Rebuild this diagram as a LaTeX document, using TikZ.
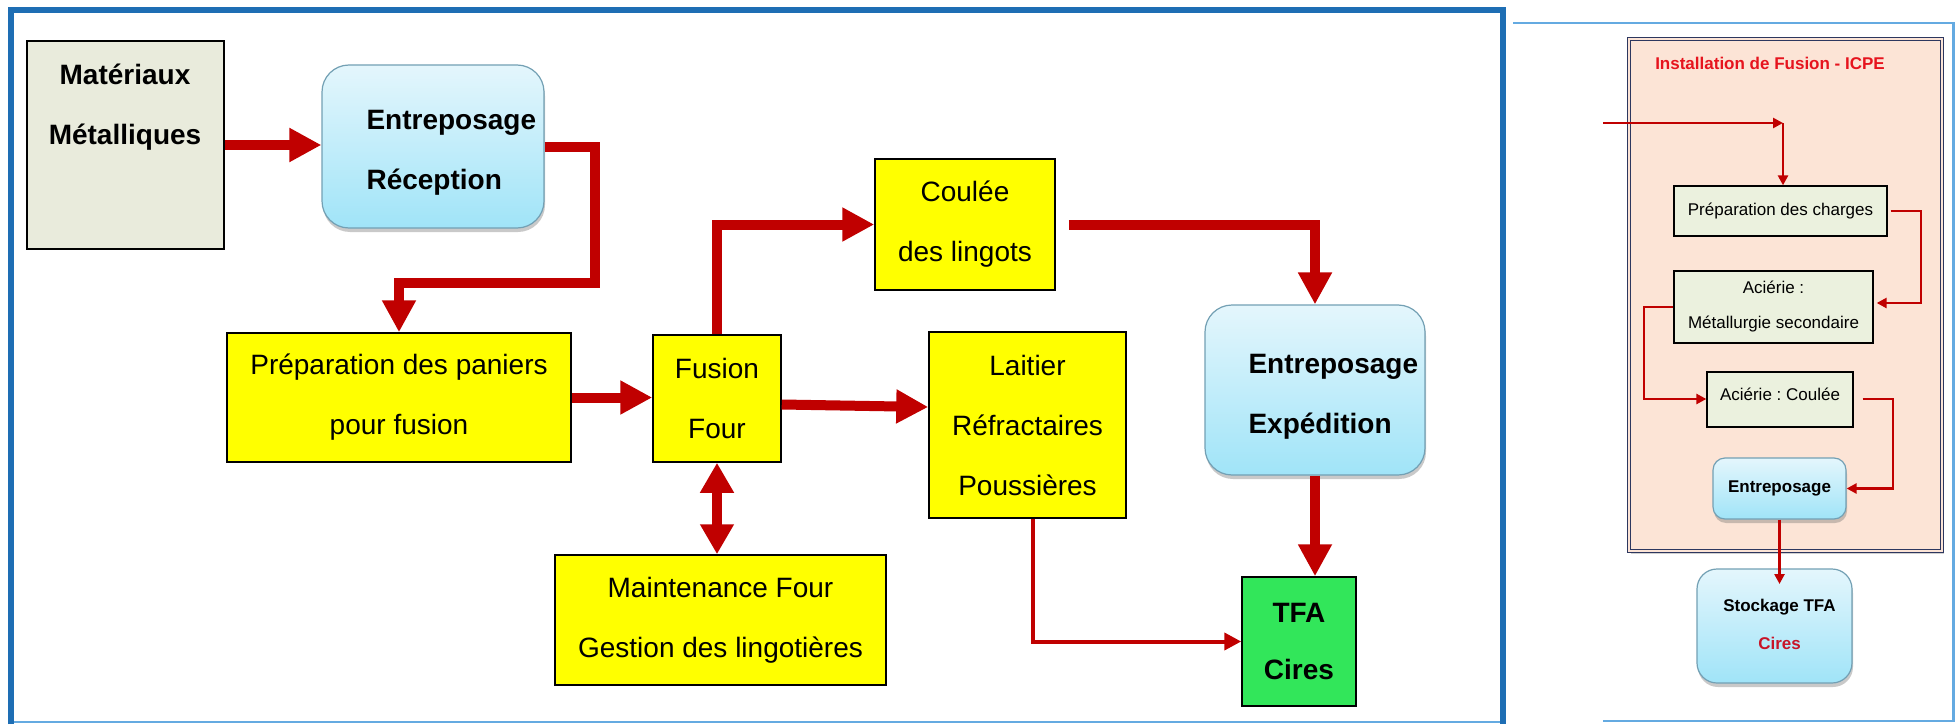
\documentclass[tikz,border=0pt]{standalone}
\usepackage{fontspec}
\setmainfont{Liberation Sans}
\usetikzlibrary{arrows.meta,shadows,calc}
\frenchspacing

\definecolor{flowred}{RGB}{192,0,0}
\definecolor{procyellow}{RGB}{255,255,0}
\definecolor{wastegreen}{RGB}{50,230,90}
\definecolor{matfill}{RGB}{233,235,220}
\definecolor{entTop}{RGB}{228,246,252}
\definecolor{entBot}{RGB}{160,228,248}
\definecolor{entBorder}{RGB}{115,160,180}
\definecolor{frameBlue}{RGB}{30,110,180}
\definecolor{frameLight}{RGB}{100,170,225}
\definecolor{icpeFill}{RGB}{252,228,214}
\definecolor{icpeBorder}{RGB}{45,55,95}
\definecolor{stepFill}{RGB}{235,241,222}
\definecolor{titleRed}{RGB}{230,20,30}
\definecolor{ciresRed}{RGB}{200,20,40}

\begin{document}
\begin{tikzpicture}[x=1pt,y=-1pt,
  bigfont/.style={font=\fontsize{28}{60}\selectfont},
  bigbold/.style={font=\bfseries\fontsize{28}{60}\selectfont},
  smallfont/.style={font=\fontsize{17}{35}\selectfont},
  smallbold/.style={font=\bfseries\fontsize{17}{35}\selectfont},
  yellowbox/.style={draw=black, line width=1.5pt, fill=procyellow, inner sep=0pt, align=center, bigfont},
  matbox/.style={draw=black, line width=2pt, fill=matfill, inner sep=0pt},
  roundbox/.style={draw=entBorder, line width=1.2pt, top color=entTop, bottom color=entBot, inner sep=0pt,
    drop shadow={shadow xshift=1pt, shadow yshift=-4pt, opacity=0.35, fill=black!60}},
  stepbox/.style={draw=black, line width=1.3pt, fill=stepFill, inner sep=0pt, align=center, smallfont},
  bigarrow/.style={draw=flowred, line width=10pt, -{Triangle[length=32pt,width=32pt]}},
  twoway/.style={draw=flowred, line width=10pt, {Triangle[length=30pt,width=32pt]}-{Triangle[length=30pt,width=32pt]}},
  thinarrow/.style={draw=flowred, line width=4pt, -{Triangle[length=17pt,width=17pt]}},
  tinyarrow/.style={draw=flowred, line width=2.5pt, -{Triangle[length=10pt,width=10pt]}}
]
\useasboundingbox (0,0) rectangle (1955,725);
\fill[white] (0,0) rectangle (1955,725);

% ---------- left panel frame ----------
\draw[frameLight, line width=2.5pt] (8,722) -- (1506,722);
\draw[frameBlue, line width=6pt, line join=miter] (10.5,724) -- (10.5,10) -- (1503,10) -- (1503,724);

% ---------- left panel nodes ----------
\node[matbox, minimum width=197pt, minimum height=208pt] (mat) at (125.5,145) {};
\node[bigbold, align=center] (matT) at (125,107) {Matériaux\\Métalliques};

\node[roundbox, rounded corners=27pt, minimum width=222pt, minimum height=163pt] (entR) at (433,146.5) {};
\node[bigbold, align=left, anchor=west] (entRT) at (363,153) {Entreposage\\Réception};

\node[yellowbox, minimum width=344pt, minimum height=129pt] (prep) at (399,397.5) {Préparation des paniers\\pour fusion};
\node[yellowbox, minimum width=128pt, minimum height=127pt] (fus) at (717,398.5) {Fusion\\Four};
\node[yellowbox, minimum width=180pt, minimum height=131pt] (coul) at (965,224.5) {Coulée\\des lingots};
\node[yellowbox, minimum width=197pt, minimum height=186pt] (lait) at (1027.5,425) {Laitier\\Réfractaires\\Poussières};
\node[yellowbox, minimum width=331pt, minimum height=130pt] (maint) at (720.5,620) {Maintenance Four\\Gestion des lingotières};

\node[roundbox, rounded corners=27pt, minimum width=220pt, minimum height=170pt] (entX) at (1315,390) {};
\node[bigbold, align=left, anchor=west] (entXT) at (1245,397) {Entreposage\\Expédition};

\node[draw=black, line width=1.5pt, fill=wastegreen, inner sep=0pt, minimum width=114pt, minimum height=129pt,
      align=center, font=\bfseries\fontsize{28}{57}\selectfont] (tfa) at (1299,641.5) {TFA\\Cires};

% ---------- left panel connectors ----------
\coordinate (k1) at (595,283);
\draw[bigarrow] (mat.east) -- (entR.west |- mat.east);
\draw[bigarrow] (entR.east) -| (k1) -| (prep.north);
\draw[bigarrow] (prep.east) -- (fus.west |- prep.east);
\draw[bigarrow] (fus.north) |- (coul.west);
\draw[bigarrow] ([xshift=13pt]coul.east) -| (entX.north);
\draw[bigarrow] ($(fus.east)+(0,6)$) -- ($(lait.west)+(0,-18)$);
\draw[twoway] (fus.south) -- (fus.south |- maint.north);
\draw[bigarrow] (entX.south) -- (entX.south |- tfa.north);
\draw[thinarrow] ([xshift=5pt]lait.south) |- (tfa.west);

% ---------- right panel frame ----------
\draw[frameLight, line width=2.5pt] (1513,23) -- (1953.5,23) -- (1953.5,721) -- (1603,721);

% ---------- right panel nodes ----------
\node[draw=icpeBorder, line width=1.2pt, double=icpeFill, double distance=2.5pt, fill=icpeFill,
      minimum width=313pt, minimum height=512pt, inner sep=0pt,
      drop shadow={shadow xshift=2pt, shadow yshift=-3pt, opacity=0.3, fill=black!60}] (icpe) at (1785.5,295) {};
\node[smallbold, text=titleRed] (icpeT) at (1770,63) {Installation de Fusion - ICPE};

\node[stepbox, minimum width=213pt, minimum height=50pt] (prepc) at (1780.5,211) {Préparation des charges};
\node[stepbox, minimum width=199pt, minimum height=72pt] (acier1) at (1773.5,307) {Aciérie :\\Métallurgie secondaire};
\node[stepbox, minimum width=146pt, minimum height=55pt, text depth=10pt] (acier2) at (1780,399.5) {Aciérie : Coulée};
\node[roundbox, rounded corners=12pt, minimum width=133pt, minimum height=61pt, smallbold] (ent2) at (1779.5,488.5) {Entreposage};
\node[roundbox, rounded corners=20pt, minimum width=155pt, minimum height=114pt] (stock) at (1774.5,626) {};
\node[smallbold] (stockT) at (1779.5,607) {Stockage TFA};
\node[smallbold, text=ciresRed] (stockC) at (1779.5,643) {Cires};

% ---------- right panel connectors ----------
\coordinate (in1) at (1603,123);
\coordinate (in2) at (1783,123);
\coordinate (r1) at (1921,303);
\coordinate (l1) at (1644,399);
\coordinate (r2) at (1893,399);
\coordinate (stk) at (1779.5,584);
\draw[tinyarrow] (in1) -- (in2);
\draw[tinyarrow] (in2) -- (in2 |- prepc.north);
\draw[tinyarrow] ([xshift=3pt]prepc.east) -| (r1) -- ([xshift=3pt]acier1.east |- r1);
\draw[tinyarrow] (acier1.west) -| (l1) -- (acier2.west |- l1);
\draw[tinyarrow] ([xshift=9pt]acier2.east |- r2) -- (r2) |- (ent2.east);
\draw[tinyarrow] (ent2.south) -- (stk);
\end{tikzpicture}
\end{document}
